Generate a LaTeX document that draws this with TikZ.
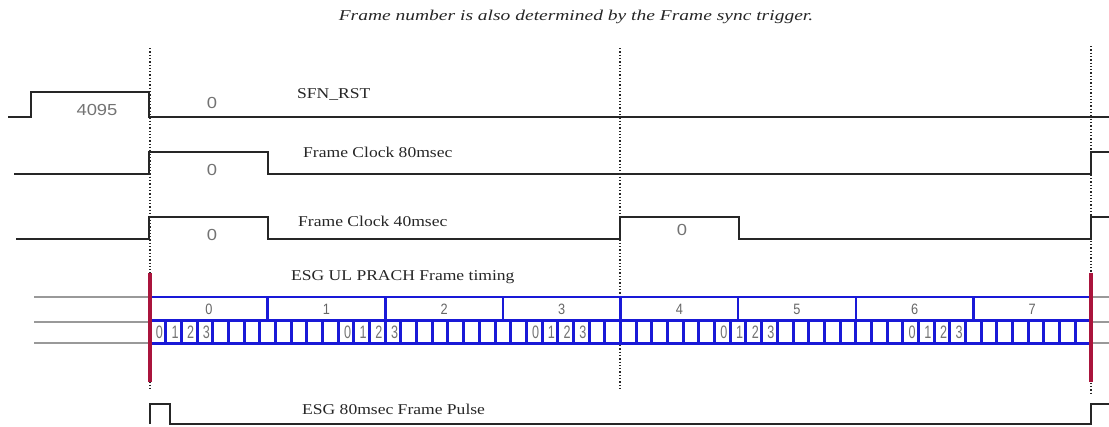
\documentclass[tikz,border=0pt]{standalone}
\usepackage{fontspec}
\newfontfamily\lblfont[FakeStretch=1.17]{Liberation Serif}
\newfontfamily\ttlfont[FakeStretch=1.3]{Liberation Serif}
\newfontfamily\numfont[FakeStretch=1.15]{Liberation Sans}
\newfontfamily\frmfont[FakeStretch=0.85]{Liberation Sans}
\newfontfamily\subfont[FakeStretch=0.7]{Liberation Sans}
\definecolor{crim}{RGB}{170,20,60}
\definecolor{blu}{RGB}{25,25,215}
\begin{document}
\begin{tikzpicture}[x=1pt,y=-1pt,
  sig/.style={draw=black!85, line width=2pt},
  sigthick/.style={draw=black!85, line width=2.5pt},
  lbl/.style={font=\lblfont\fontsize{15}{15}\selectfont, text=black!85, inner sep=0pt, anchor=west},
  ttl/.style={font=\ttlfont\itshape\fontsize{15}{15}\selectfont, text=black!85, inner sep=0pt},
  num/.style={font=\numfont\fontsize{16}{16}\selectfont, text=black!55, inner sep=0pt},
  frm/.style={font=\frmfont\fontsize{15}{15}\selectfont, text=black!60, inner sep=0pt},
  sublbl/.style={font=\subfont\fontsize{18}{18}\selectfont, text=black!55, inner sep=0pt},
  dotv/.style={dotted, line width=1.3pt, draw=black!85},
  grayl/.style={draw=black!40, line width=1.5pt},
  redl/.style={draw=crim, line width=3.2pt},
  bluthin/.style={draw=blu, line width=2pt},
  bluthick/.style={draw=blu, line width=3pt}]
\useasboundingbox (0,0) rectangle (1109,426);

% title
\node[ttl] (title) at (576,17) {Frame number is also determined by the Frame sync trigger.};

% dotted guide lines
\draw[dotv] (150,48) -- (150,390);
\draw[dotv] (620,48) -- (620,390);
\draw[dotv] (1091,46) -- (1091,393);

% SFN_RST
\draw[sig] (8,117) -- (31,117) -- (31,92) -- (149,92) -- (149,117) -- (1109,117);
\node[num] (v4095) at (97,110) {4095};
\node[num] (vsfn0) at (212,103) {0};
\node[lbl] (sfn) at (297,94) {SFN\_RST};

% Frame Clock 80msec
\draw[sig] (14,174) -- (149,174) -- (149,152) -- (268,152) -- (268,174) -- (1091,174) -- (1091,152) -- (1109,152);
\node[num] (v80) at (212,170) {0};
\node[lbl] (fc80) at (303,152) {Frame Clock 80msec};

% Frame Clock 40msec
\draw[sigthick] (16,239) -- (149,239) -- (149,217) -- (268,217) -- (268,239) -- (620,239) -- (620,217) -- (739,217) -- (739,239) -- (1091,239) -- (1091,217) -- (1109,217);
\node[num] (v40a) at (212,235) {0};
\node[num] (v40b) at (682,230) {0};
\node[lbl] (fc40) at (298,221) {Frame Clock 40msec};

% PRACH frame timing
\node[lbl] (prach) at (291,277) {ESG UL PRACH Frame timing};
\foreach \yy in {297,322,343} {
  \draw[grayl] (34,\yy) -- (150,\yy);
  \draw[grayl] (1091,\yy) -- (1109,\yy);
}
\draw[bluthin] (150,297) -- (1091,297);
\foreach \k in {0,...,8} \draw[bluthin, line width=2.5pt] ({150+\k*117.625},297) -- ({150+\k*117.625},320);
\foreach \j in {0,...,60} \draw[bluthick] ({150+\j*15.6833},320) -- ({150+\j*15.6833},343);
\draw[bluthick] (150,320) -- (1091,320);
\draw[bluthick] (150,343) -- (1091,343);
\foreach \k in {0,...,7} \node[frm] (f\k) at ({150+(\k+0.5)*117.625},309) {\k};
\foreach \g in {0,12,24,36,48} \foreach \d in {0,...,3}
  \node[sublbl] (s\g-\d) at ({151.5+(\g+\d+0.5)*15.6833},332) {\d};
\draw[redl] (150,273) -- (150,382);
\draw[redl] (1091,273) -- (1091,382);

% ESG 80msec Frame Pulse
\draw[sig] (150,424) -- (150,404) -- (170,404) -- (170,424) -- (1091,424) -- (1091,404) -- (1109,404);
\node[lbl] (pulse) at (302,409) {ESG 80msec Frame Pulse};
\end{tikzpicture}
\end{document}
